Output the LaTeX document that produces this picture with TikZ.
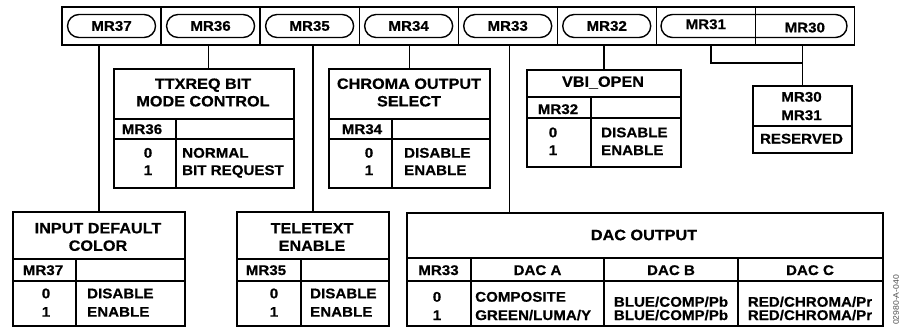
\documentclass[tikz,border=0pt]{standalone}
\usepackage{fontspec}
\setmainfont{Liberation Sans}[FakeStretch=1.08, BoldFeatures={FakeBold=0.5}]
\begin{document}
\begin{tikzpicture}[x=1pt,y=-1pt,
  cell/.style={draw, line width=1.2pt, minimum width=99.04pt, minimum height=38pt, inner sep=0pt},
  pill/.style={draw, line width=1.4pt, rounded corners=11.5pt, minimum height=23pt, inner sep=0pt},
  pt/.style={font=\fontsize{14}{14}\selectfont\bfseries, inner sep=0pt, text height=9.5pt, text depth=0pt},
  bx/.style={draw, line width=1.8pt, inner sep=0pt, anchor=north west},
  rl/.style={line width=1.8pt},
  conn/.style={line width=1.4pt},
  ttl/.style={font=\fontsize{15}{17.5}\selectfont\bfseries, align=center, inner sep=0pt},
  tx/.style={font=\fontsize{14}{18}\selectfont\bfseries, inner sep=0pt, text height=10pt, text depth=0pt},
  txl/.style={tx, anchor=west},
]
\useasboundingbox (0,0) rectangle (901,327);

% ---- top register bar ----
\node[cell] (c37) at (111.52,26) {};
\node[cell] (c36) at (210.56,26) {};
\node[cell] (c35) at (309.60,26) {};
\node[cell] (c34) at (408.64,26) {};
\node[cell] (c33) at (507.68,26) {};
\node[cell] (c32) at (606.72,26) {};
\node[cell] (c31) at (705.76,26) {};
\node[cell] (c30) at (804.80,26) {};

\node[pill, minimum width=88pt] (p37) at (c37) {};
\node[pill, minimum width=88pt] (p36) at (c36) {};
\node[pill, minimum width=88pt] (p35) at (c35) {};
\node[pill, minimum width=88pt] (p34) at (c34) {};
\node[pill, minimum width=88pt] (p33) at (c33) {};
\node[pill, minimum width=88pt] (p32) at (c32) {};
\node[pill, minimum width=186pt] (p3130) at (754,26) {};
\node[pt] (t37) at (c37) {MR37};
\node[pt] (t36) at (c36) {MR36};
\node[pt] (t35) at (c35) {MR35};
\node[pt] (t34) at (c34) {MR34};
\node[pt] (t33) at (c33) {MR33};
\node[pt] (t32) at (c32) {MR32};
\node[pt] (t31) at (705.8,24.3) {MR31};
\node[pt] (t30) at (804.8,27.6) {MR30};

% ---- TTXREQ BIT MODE CONTROL ----
\node[bx, minimum width=180pt, minimum height=119pt] (ttx) at (113,68) {};
\draw[rl] (113,119) -- (293,119) (113,139) -- (293,139) (176,119) -- (176,187);
\node[ttl] (ttxT) at (203,92.5) {TTXREQ BIT\\MODE CONTROL};
\node[tx] (ttxH) at (142,129) {MR36};
\node[tx] (ttx0) at (148,152.7) {0};
\node[tx] (ttx1) at (148,170) {1};
\node[txl] (ttxA) at (182,152.7) {NORMAL};
\node[txl] (ttxB) at (182,170) {BIT REQUEST};

% ---- CHROMA OUTPUT SELECT ----
\node[bx, minimum width=161pt, minimum height=119pt] (chr) at (328,68) {};
\draw[rl] (328,119) -- (489,119) (328,139) -- (489,139) (392,119) -- (392,187);
\node[ttl] (chrT) at (409,92.5) {CHROMA OUTPUT\\SELECT};
\node[tx] (chrH) at (362,129) {MR34};
\node[tx] (chr0) at (369,152.7) {0};
\node[tx] (chr1) at (369,170) {1};
\node[txl] (chrA) at (404,152.7) {DISABLE};
\node[txl] (chrB) at (404,170) {ENABLE};

% ---- VBI_OPEN ----
\node[bx, minimum width=154pt, minimum height=97pt] (vbi) at (526,69) {};
\draw[rl] (526,97) -- (680,97) (526,118) -- (680,118) (591,97) -- (591,166);
\node[ttl] (vbiT) at (603,82.5) {VBI\_OPEN};
\node[tx] (vbiH) at (558,109) {MR32};
\node[tx] (vbi0) at (553,132.3) {0};
\node[tx] (vbi1) at (553,150) {1};
\node[txl] (vbiA) at (601,132.3) {DISABLE};
\node[txl] (vbiB) at (601,150) {ENABLE};

% ---- RESERVED ----
\node[bx, minimum width=99pt, minimum height=67pt] (res) at (752,85) {};
\draw[rl] (752,126) -- (851,126);
\node[tx] (res0) at (801.5,96.7) {MR30};
\node[tx] (res1) at (801.5,115) {MR31};
\node[tx] (resA) at (801.5,138.5) {RESERVED};

% ---- INPUT DEFAULT COLOR ----
\node[bx, minimum width=172pt, minimum height=114pt] (inp) at (12,211) {};
\draw[rl] (12,259) -- (184,259) (12,281) -- (184,281) (76,259) -- (76,325);
\node[ttl] (inpT) at (98,237) {INPUT DEFAULT\\COLOR};
\node[tx] (inpH) at (43,270) {MR37};
\node[tx] (inp0) at (46,293.3) {0};
\node[tx] (inp1) at (46,311.7) {1};
\node[txl] (inpA) at (87,293.3) {DISABLE};
\node[txl] (inpB) at (87,311.7) {ENABLE};

% ---- TELETEXT ENABLE ----
\node[bx, minimum width=152pt, minimum height=114pt] (tel) at (236,211) {};
\draw[rl] (236,259) -- (388,259) (236,281) -- (388,281) (301,259) -- (301,325);
\node[ttl] (telT) at (312,237) {TELETEXT\\ENABLE};
\node[tx] (telH) at (266,270) {MR35};
\node[tx] (tel0) at (274,293.3) {0};
\node[tx] (tel1) at (274,311.7) {1};
\node[txl] (telA) at (310,293.3) {DISABLE};
\node[txl] (telB) at (310,311.7) {ENABLE};

% ---- DAC OUTPUT ----
\node[bx, minimum width=476pt, minimum height=113pt] (dac) at (406,212) {};
\draw[rl] (406,258) -- (882,258) (406,281) -- (882,281)
  (471,258) -- (471,325) (604,258) -- (604,325) (738,258) -- (738,325);
\node[ttl] (dacT) at (644,235) {DAC OUTPUT};
\node[tx] (dacH) at (438.5,270) {MR33};
\node[tx] (dacHA) at (537.5,270) {DAC A};
\node[tx] (dacHB) at (671,270) {DAC B};
\node[tx] (dacHC) at (810,270) {DAC C};
\node[tx] (dac0) at (437,296.7) {0};
\node[tx] (dac1) at (437,315) {1};
\node[txl] (dacA0) at (475,296.7) {COMPOSITE};
\node[txl] (dacA1) at (475,315) {GREEN/LUMA/Y};
\node[tx] (dacB0) at (671,301.7) {BLUE/COMP/Pb};
\node[tx] (dacB1) at (671,315) {BLUE/COMP/Pb};
\node[tx] (dacC0) at (810,301.7) {RED/CHROMA/Pr};
\node[tx] (dacC1) at (810,315) {RED/CHROMA/Pr};

% ---- figure code ----
\node[rotate=90, font=\fontsize{8}{8}\selectfont, text=black!70, inner sep=0pt] (fig) at (896,300) {02980-A-040};

% ---- connectors ----
\draw[conn] (inp.north) -- (inp.north |- c37.south);
\draw[conn] ([xshift=-2.3pt]c36.south) -- ([xshift=-2.3pt]c36.south |- ttx.north);
\draw[conn] (tel.north) -- (tel.north |- c35.south);
\draw[conn] (chr.north) -- (chr.north |- c34.south);
\draw[conn] ([xshift=1.6pt]c33.south) -- ([xshift=1.6pt]c33.south |- dac.north);
\draw[conn] (vbi.north) -- (vbi.north |- c32.south);
\draw[conn] (res.north) -- (res.north |- c30.south);
\coordinate (jn) at (801.5,63);
\draw[conn] ([xshift=5.2pt]c31.south) |- (jn);
\end{tikzpicture}
\end{document}
